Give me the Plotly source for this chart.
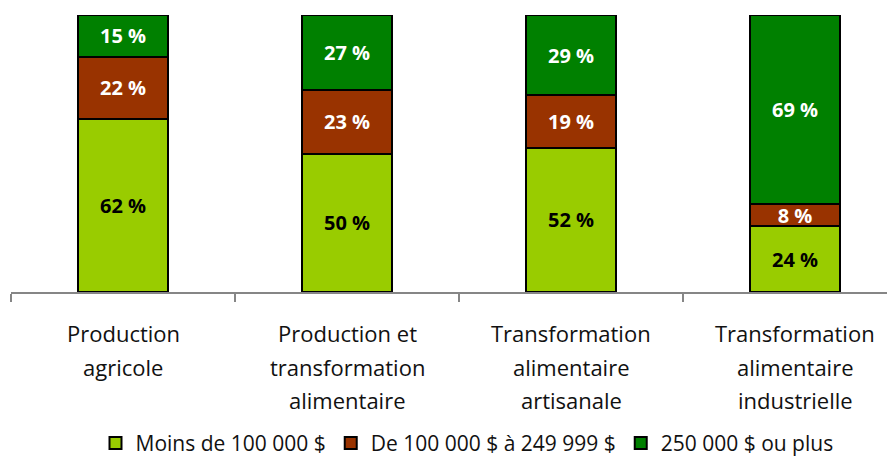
import plotly.graph_objects as go

categories = ["Production agricole",
              "Production et transformation alimentaire",
              "Transformation alimentaire artisanale",
              "Transformation alimentaire industrielle"]
category_lines = [["Production", "agricole"],
                  ["Production et", "transformation", "alimentaire"],
                  ["Transformation", "alimentaire", "artisanale"],
                  ["Transformation", "alimentaire", "industrielle"]]
series_names = ["Moins de 100 000 $", "De 100 000 $ à 249 999 $", "250 000 $ ou plus"]
moins_100k = [62, 50, 52, 24]
de_100k_249k = [22, 23, 19, 8]
plus_250k = [15, 27, 29, 69]

series_values = [moins_100k, de_100k_249k, plus_250k]
colors = ["#99CC00", "#993300", "#008000"]
text_colors = ["black", "white", "white"]

FONT = "Open Sans"
W, H = 895, 459
OFFX, OFFY = 8, 5
ML, MR, MT = 11 - OFFX, OFFX, 12 - OFFY
PLOT_BOTTOM = 294 - OFFY
MB = H - PLOT_BOTTOM
plot_h = H - MT - MB
plot_w = W - ML - MR

fig = go.Figure()
for name, vals, col, tcol in zip(series_names, series_values, colors, text_colors):
    fig.add_trace(go.Bar(
        x=categories, y=vals, name=name, width=0.402,
        marker=dict(color=col, line=dict(color="black", width=2)),
        text=[f"{v} %" for v in vals],
        textposition="inside", insidetextanchor="middle", textangle=0,
        textfont=dict(family=FONT, size=20, color=tcol, weight="bold"),
        hoverinfo="skip",
    ))

annotations = []
for cat, lines in zip(categories, category_lines):
    for i, line in enumerate(lines):
        py = 336 - OFFY + 34 * i
        annotations.append(dict(
            x=cat, xref="x", y=(PLOT_BOTTOM - py) / plot_h, yref="paper",
            text=line, showarrow=False, xanchor="center", yanchor="middle",
            font=dict(family=FONT, size=22, color="#111111"),
        ))

fig.update_layout(
    width=W, height=H,
    margin=dict(l=ML, r=MR, t=MT, b=MB),
    barmode="stack", barnorm="percent",
    paper_bgcolor="white", plot_bgcolor="white",
    uniformtext=dict(minsize=20, mode="show"),
    showlegend=True,
    legend=dict(orientation="h", x=(467 - OFFX - ML) / plot_w, xanchor="center",
                y=(PLOT_BOTTOM - (448 - OFFY)) / plot_h, yanchor="middle",
                font=dict(family=FONT, size=21, color="#111111"),
                traceorder="normal", itemwidth=30, tracegroupgap=0),
    annotations=annotations,
    xaxis=dict(type="category", range=[-0.5, plot_w / 224 - 0.5],
               showticklabels=False, ticks="outside", tickson="boundaries",
               ticklen=8, tickcolor="#868686", tickwidth=1.5,
               showline=True, linecolor="#868686", linewidth=1.5,
               showgrid=False, zeroline=False, fixedrange=True),
    yaxis=dict(range=[0, 100], visible=False, fixedrange=True),
)

fig.write_html("out.html")
